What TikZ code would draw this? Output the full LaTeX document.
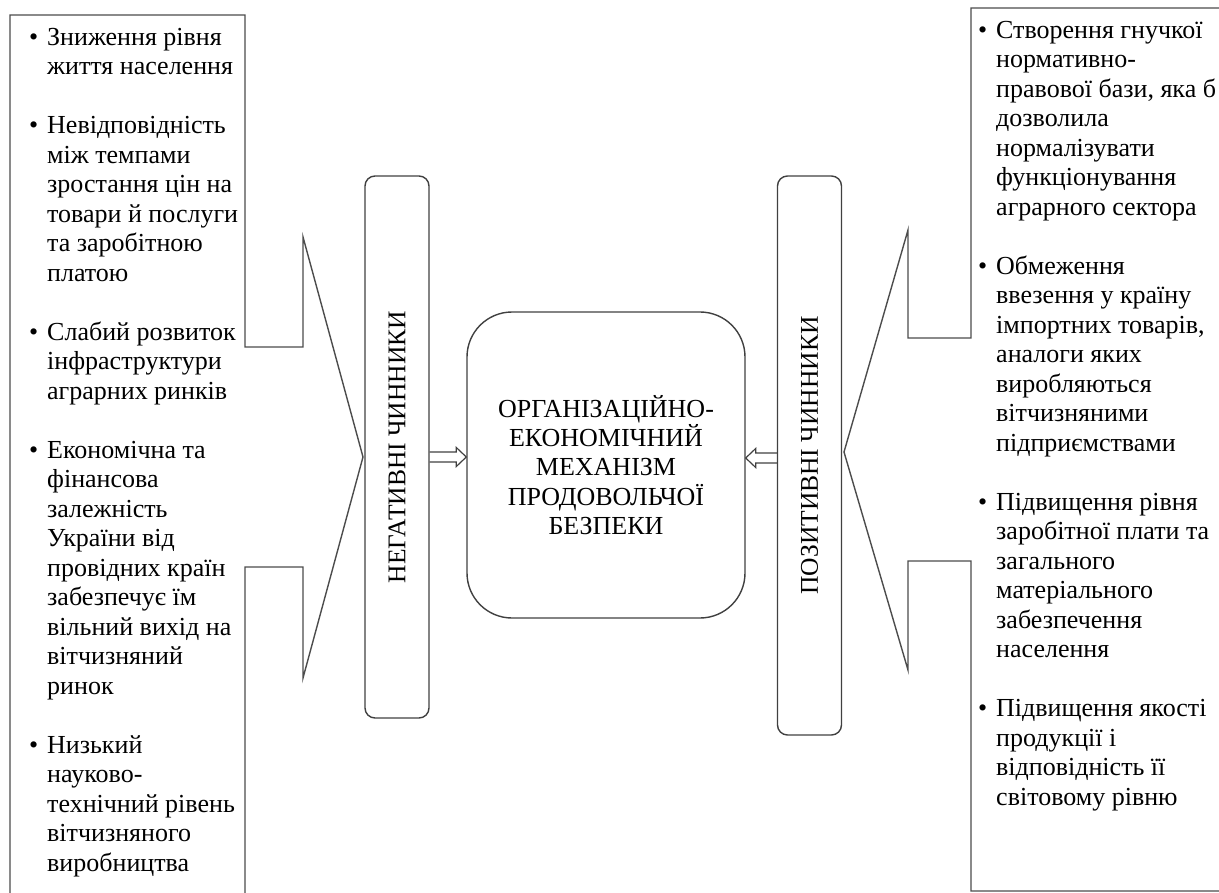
\documentclass[tikz,border=0pt]{standalone}
\usepackage{fontspec}
\setmainfont{Liberation Serif}
\usetikzlibrary{calc}
\tikzset{
  frame/.style={draw=black!70,line width=1.4pt,line join=miter},
  factorbox/.style={draw=black!75,line width=1.4pt,rounded corners=10pt,minimum width=64pt},
  mechbox/.style={draw=black!75,line width=1.4pt,rounded corners=45pt,minimum width=278pt,minimum height=306pt,align=center,font=\fontsize{26pt}{29.3pt}\selectfont},
  listtext/.style={anchor=north west,inner sep=0pt,align=left,font=\fontsize{26pt}{29.5pt}\selectfont},
  titletext/.style={rotate=90,inner sep=0pt,font=\fontsize{25.5pt}{28pt}\selectfont},
  arrowshape/.style={draw=black!75,line width=1.2pt,line join=miter}
}
\newcommand\itemmark{\makebox[18pt][l]{\textbullet}}
\newcommand\itemind{\hspace*{18pt}}
\newcommand\blockarrow[3]{\draw[arrowshape] ($(#1)+(0,-5)$) -- ($(#2)+(#3,-5)$) -- ($(#2)+(#3,-9.5)$) -- (#2) -- ($(#2)+(#3,9.5)$) -- ($(#2)+(#3,5)$) -- ($(#1)+(0,5)$);}
\begin{document}
\begin{tikzpicture}[x=1pt,y=-1pt]
    \useasboundingbox (0,0) rectangle (1219,893);
    \clip (0,0) rectangle (1219,893);
    \draw[frame](10,15)--(245,15)--(245,347)--(303,347)--(303,237)--(363,457)--(303,678)--(303,567)--(245,567)--(245,900)--(10,900)--cycle;
    \draw[frame](1230,8)--(971,8)--(971,338)--(908,338)--(908,230)--(844,452)--(908,670)--(908,561)--(971,561)--(971,891)--(1230,891);
    \node[listtext] (negitems) at (29,28) {\itemmark Зниження рівня\\ \itemind життя населення\\[29.5pt]
        \itemmark Невідповідність\\ \itemind між темпами\\ \itemind зростання цін на\\ \itemind товари й послуги\\ \itemind та заробітною\\ \itemind платою\\[29.5pt]
        \itemmark Слабий розвиток\\ \itemind інфраструктури\\ \itemind аграрних ринків\\[29.5pt]
        \itemmark Економічна та\\ \itemind фінансова\\ \itemind залежність\\ \itemind України від\\ \itemind провідних країн\\ \itemind забезпечує їм\\ \itemind вільний вихід на\\ \itemind вітчизняний\\ \itemind ринок\\[29.5pt]
        \itemmark Низький\\ \itemind науково-\\ \itemind технічний рівень\\ \itemind вітчизняного\\ \itemind виробництва};
    \node[listtext] (positems) at (978,21) {\itemmark Створення гнучкої\\ \itemind нормативно-\\ \itemind правової бази, яка б\\ \itemind дозволила\\ \itemind нормалізувати\\ \itemind функціонування\\ \itemind аграрного сектора\\[29.5pt]
        \itemmark Обмеження\\ \itemind ввезення у країну\\ \itemind імпортних товарів,\\ \itemind аналоги яких\\ \itemind виробляються\\ \itemind вітчизняними\\ \itemind підприємствами\\[29.5pt]
        \itemmark Підвищення рівня\\ \itemind заробітної плати та\\ \itemind загального\\ \itemind матеріального\\ \itemind забезпечення\\ \itemind населення\\[29.5pt]
        \itemmark Підвищення якості\\ \itemind продукції і\\ \itemind відповідність її\\ \itemind світовому рівню};
    \node[factorbox,minimum height=542pt] (neg) at (397,447) {};
    \node[titletext] (negtitle) at (neg.center) {НЕГАТИВНІ ЧИННИКИ};
    \node[factorbox,minimum height=559pt] (pos) at (809.5,455.5) {};
    \node[titletext] (postitle) at (pos.center) {ПОЗИТИВНІ ЧИННИКИ};
    \node[mechbox] (mech) at (606,465) {ОРГАНІЗАЦІЙНО-\\ЕКОНОМІЧНИЙ\\МЕХАНІЗМ\\ПРОДОВОЛЬЧОЇ\\БЕЗПЕКИ};
    \coordinate (lefttip) at ($(mech.west)+(0,-8)$);
    \coordinate (righttip) at ($(mech.east)+(0,-7)$);
    \blockarrow{neg.east |- lefttip}{lefttip}{-10}
    \blockarrow{pos.west |- righttip}{righttip}{10}
\end{tikzpicture}
\end{document}
